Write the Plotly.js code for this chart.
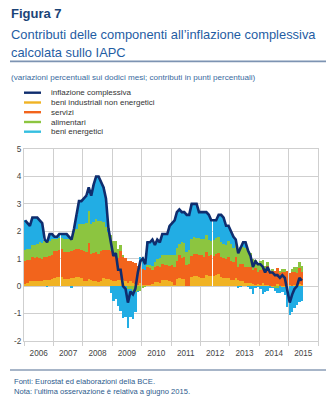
<!DOCTYPE html>
<html>
<head>
<meta charset="utf-8">
<script src="https://cdn.plot.ly/plotly-3.0.1.min.js"></script>
<style>
html,body{margin:0;padding:0;background:#fff;}
#chart{width:336px;height:403px;}
</style>
</head>
<body>
<div id="chart"></div>
<script>
// ---- Data (contributions in percentage points, Jan 2006 - Jun 2015) ----
const startYear = 2006;
const nMonths = 114;

const headline = [
  2.4,2.3,2.2,2.5,2.5,2.5,2.4,2.3,1.7,1.6,1.9,1.9,
  1.8,1.8,1.9,1.9,1.9,1.9,1.8,1.7,2.1,2.6,3.1,3.1,
  3.2,3.3,3.6,3.3,3.7,4.0,4.0,3.8,3.6,3.2,2.1,1.6,
  1.1,1.2,0.6,0.6,0.0,-0.1,-0.6,-0.2,-0.3,-0.1,0.5,0.9,
  1.0,0.8,1.6,1.6,1.7,1.5,1.7,1.6,1.9,1.9,1.9,2.2,
  2.3,2.4,2.7,2.8,2.7,2.7,2.6,2.6,3.0,3.0,3.0,2.7,
  2.7,2.7,2.7,2.6,2.4,2.4,2.4,2.6,2.6,2.5,2.2,2.2,
  2.0,1.8,1.7,1.2,1.4,1.6,1.6,1.3,1.1,0.7,0.9,0.8,
  0.8,0.7,0.5,0.7,0.5,0.5,0.4,0.4,0.3,0.4,0.3,-0.2,
  -0.6,-0.3,-0.1,0.0,0.3,0.2
];
const neig = [
  0.09,0.12,0.17,0.20,0.20,0.20,0.17,0.17,0.23,0.23,0.23,0.26,
  0.29,0.32,0.32,0.32,0.26,0.26,0.26,0.29,0.29,0.32,0.32,0.29,
  0.20,0.20,0.26,0.23,0.20,0.20,0.15,0.20,0.29,0.26,0.26,0.23,
  0.17,0.20,0.23,0.23,0.23,0.17,0.12,0.17,0.12,0.09,0.06,0.12,
  0.03,0.03,0.03,0.06,0.09,0.15,0.15,0.12,0.23,0.23,0.23,0.20,
  0.14,0.03,0.25,0.28,0.25,0.25,0.00,0.00,0.34,0.36,0.36,0.34,
  0.31,0.31,0.42,0.36,0.36,0.36,0.42,0.45,0.34,0.31,0.31,0.28,
  0.22,0.22,0.28,0.22,0.17,0.20,0.11,0.11,0.11,0.08,0.06,0.08,
  0.05,0.11,0.05,0.03,0.00,-0.03,0.00,0.08,0.00,-0.03,-0.03,0.03,
  0.03,0.00,0.03,0.05,0.08,0.05
];
const services = [
  0.82,0.82,0.78,0.86,0.82,0.86,0.86,0.82,0.82,0.82,0.86,0.86,
  0.98,0.96,0.98,1.02,1.00,1.00,1.00,1.00,1.02,1.02,1.04,1.04,
  1.08,1.04,1.32,0.96,1.00,1.04,1.04,1.08,1.04,1.04,1.04,1.04,
  1.01,1.01,0.80,1.05,0.84,0.84,0.80,0.76,0.76,0.76,0.67,0.67,
  0.59,0.55,0.67,0.59,0.50,0.55,0.59,0.59,0.59,0.55,0.55,0.55,
  0.63,0.67,0.67,0.84,0.76,0.80,0.76,0.80,0.76,0.80,0.80,0.80,
  0.82,0.77,0.82,0.73,0.77,0.73,0.77,0.77,0.73,0.73,0.69,0.77,
  0.69,0.65,0.77,0.47,0.65,0.60,0.60,0.60,0.60,0.52,0.60,0.43,
  0.53,0.57,0.48,0.70,0.48,0.57,0.57,0.57,0.48,0.53,0.53,0.53,
  0.44,0.53,0.48,0.44,0.57,0.48
];
const food = [
  0.41,0.43,0.39,0.45,0.49,0.49,0.57,0.57,0.59,0.55,0.55,0.59,
  0.45,0.44,0.45,0.42,0.47,0.47,0.45,0.47,0.66,0.74,0.90,0.94,
  0.99,1.05,1.17,1.07,1.13,1.19,1.19,1.11,1.01,0.86,0.66,0.59,
  0.47,0.45,0.31,0.21,0.08,0.00,-0.12,-0.12,-0.18,-0.21,-0.16,-0.16,
  -0.06,-0.02,0.06,0.11,0.15,0.17,0.25,0.30,0.30,0.34,0.36,0.40,
  0.36,0.44,0.46,0.42,0.61,0.51,0.48,0.51,0.61,0.65,0.59,0.61,
  0.59,0.63,0.61,0.59,0.53,0.61,0.55,0.57,0.55,0.51,0.51,0.61,
  0.62,0.53,0.53,0.57,0.62,0.62,0.68,0.62,0.51,0.39,0.31,0.33,
  0.33,0.29,0.20,0.14,0.02,0.04,-0.06,-0.06,0.06,0.10,0.10,0.00,
  0.00,0.10,0.20,0.21,0.23,0.20
];
const energy = [
  1.08,0.93,0.86,0.99,0.99,0.95,0.80,0.74,0.06,-0.04,0.26,0.19,
  0.08,0.08,0.15,0.14,0.17,0.17,0.09,-0.06,0.13,0.52,0.84,0.83,
  0.93,1.01,0.85,1.04,1.37,1.57,1.62,1.41,1.26,1.04,0.14,-0.26,
  -0.55,-0.46,-0.74,-0.89,-1.15,-1.11,-1.40,-1.01,-1.00,-0.74,-0.07,0.27,
  0.44,0.24,0.84,0.84,0.96,0.63,0.71,0.59,0.78,0.78,0.76,1.05,
  1.17,1.26,1.32,1.26,1.08,1.14,1.36,1.29,1.29,1.19,1.25,0.95,
  0.98,0.99,0.85,0.92,0.74,0.70,0.66,0.81,0.98,0.95,0.69,0.54,
  0.47,0.40,0.12,-0.06,-0.04,0.18,0.21,-0.03,-0.12,-0.29,-0.07,-0.04,
  -0.11,-0.27,-0.23,-0.17,-0.05,-0.05,-0.11,-0.19,-0.24,-0.20,-0.30,-0.76,
  -1.07,-0.93,-0.81,-0.70,-0.58,-0.53
];

const seriesNames = ["inflazione complessiva","beni industriali non energetici","servizi","alimentari","beni energetici"];
const yTickVals = [-2,-1,0,1,2,3,4,5];
const yTickText = ["-2","-1","0","1","2","3","4","5"];

// month positions (mid-month)
const months = [];
for (let i = 0; i < nMonths; i++) {
  const y = startYear + Math.floor(i / 12);
  const m = (i % 12) + 1;
  months.push(y + "-" + (m < 10 ? "0" + m : m) + "-15");
}

// ---- Styling ----
const C = {
  line: "#0f2d6e",
  neig: "#f0b324",
  serv: "#f2641c",
  food: "#8cc540",
  energy: "#22ade4",
  legEnergy: "#35bfe0",
  grid: "#cfcfcf"
};
const FONT = "Liberation Sans, Arial, sans-serif";
const monthMs = 30.4 * 24 * 3600 * 1000;

// plot area in px
const L = 24, R = 318, T = 149, B = 341;
const px = v => (v - L) / (R - L);
const py = v => (B - v) / (B - T);

function bar(name, y, color) {
  return {type: "bar", name: name, x: months, y: y, width: monthMs,
          marker: {color: color, line: {width: 0}}, showlegend: false, hoverinfo: "skip"};
}

const traces = [
  bar(seriesNames[1], neig, C.neig),
  bar(seriesNames[2], services, C.serv),
  bar(seriesNames[3], food, C.food),
  bar(seriesNames[4], energy, C.energy),
  {type: "scatter", mode: "lines", name: seriesNames[0], x: months, y: headline,
   line: {color: C.line, width: 2.6}, showlegend: false, hoverinfo: "skip"}
];

const annotations = [];
const shapes = [];
function txt(text, x, y, size, color, extra) {
  annotations.push(Object.assign({text: text, xref: "paper", yref: "paper",
    x: px(x), y: py(y), xanchor: "left", yanchor: "middle", showarrow: false,
    font: {family: FONT, size: size, color: color}}, extra || {}));
}
txt("<b>Figura 7</b>", 9, 13.5, 13, "#1b4477");
txt("Contributi delle componenti all\u2019inflazione complessiva", 9, 34.3, 12.9, "#1f5da3");
txt("calcolata sullo IAPC", 9, 52.5, 12.9, "#1f5da3");
txt("(variazioni percentuali sui dodici mesi; contributi in punti percentuali)", 9, 77.3, 8.1, "#3a6a9e");
txt("Fonti: Eurostat ed elaborazioni della BCE.", 12, 381, 7.6, "#2c5a8c");
txt("Nota: l\u2019ultima osservazione \u00e8 relativa a giugno 2015.", 12, 391, 7.6, "#2c5a8c");

shapes.push({type: "line", xref: "paper", yref: "paper", x0: px(10), x1: px(326), y0: py(61.3), y1: py(61.3),
             line: {color: "#7d93b2", width: 1.8}});
shapes.push({type: "line", xref: "paper", yref: "paper", x0: px(10), x1: px(326), y0: py(370), y1: py(370),
             line: {color: "#8a9cb6", width: 1.4}});

// custom legend (line samples)
const legColors = [C.line, C.neig, C.serv, C.food, C.legEnergy];
const legY = [92.7, 102.5, 112.2, 122, 131.7];
for (let i = 0; i < 5; i++) {
  shapes.push({type: "line", xref: "paper", yref: "paper", x0: px(24), x1: px(41), y0: py(legY[i]), y1: py(legY[i]),
               line: {color: legColors[i], width: 2.4}});
  txt(seriesNames[i], 49, legY[i], 8, "#333333");
}

const layout = {
  width: 336, height: 403,
  margin: {l: L, r: 336 - R, t: T, b: 403 - B, pad: 0},
  paper_bgcolor: "#ffffff", plot_bgcolor: "#ffffff",
  barmode: "relative", bargap: 0,
  showlegend: false,
  font: {family: FONT, size: 8, color: "#444444"},
  xaxis: {
    type: "date", range: ["2006-01-01", "2016-01-01"],
    dtick: "M12", tick0: "2006-01-01", tickformat: "%Y", ticklabelmode: "period",
    showgrid: true, gridcolor: C.grid, gridwidth: 1,
    ticks: "outside", ticklen: 4, tickcolor: C.grid,
    showline: true, mirror: true, linecolor: C.grid, linewidth: 1,
    tickfont: {family: FONT, size: 8.2, color: "#444444"}, fixedrange: true
  },
  yaxis: {
    range: [-2, 5], tickvals: yTickVals, ticktext: yTickText,
    showgrid: true, gridcolor: C.grid, gridwidth: 1, zeroline: false,
    showline: true, mirror: true, linecolor: C.grid, linewidth: 1,
    ticks: "", tickfont: {family: FONT, size: 8.2, color: "#444444"}, fixedrange: true
  },
  annotations: annotations,
  shapes: shapes
};

Plotly.newPlot("chart", traces, layout, {staticPlot: true, displayModeBar: false});
</script>
</body>
</html>
